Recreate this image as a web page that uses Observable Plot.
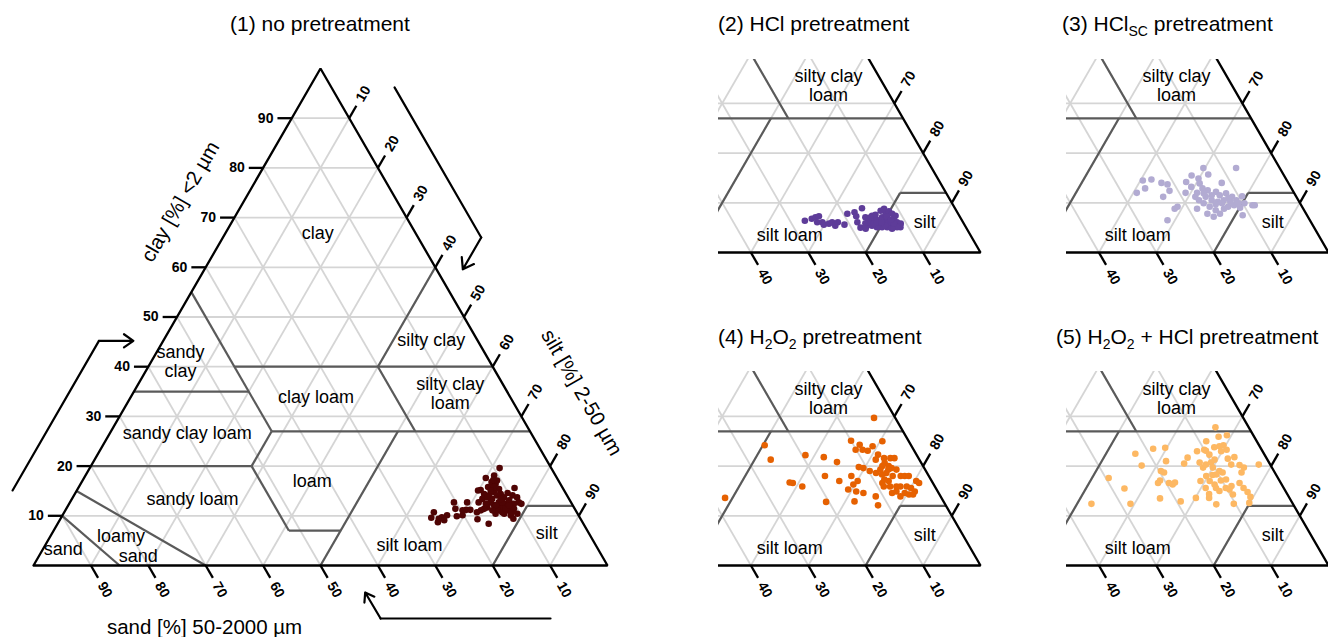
<!DOCTYPE html>
<html><head><meta charset="utf-8">
<script src="https://cdn.jsdelivr.net/npm/d3@7"></script>
<script src="https://cdn.jsdelivr.net/npm/@observablehq/plot@0.6"></script>
<style>
body{margin:0;background:#fff;}
#wrap{position:relative;width:1328px;height:637px;overflow:hidden;font-family:"Liberation Sans",Arial,Helvetica,sans-serif;background:#fff;}
.title{position:absolute;font-size:21px;line-height:21px;white-space:nowrap;color:#000;}
.title sub{font-size:14px;vertical-align:-5px;line-height:0;}
.panel{position:absolute;}
.panel svg{display:block;}
</style></head><body>
<div id="wrap">
  <div class="title" style="left:0;width:640px;text-align:center;top:13px">(1) no pretreatment</div>
  <div class="title" style="left:718px;top:13px">(2) HCl pretreatment</div>
  <div class="title" style="left:1062px;top:13px">(3) HCl<sub>SC</sub> pretreatment</div>
  <div class="title" style="left:718px;top:326px">(4) H<sub>2</sub>O<sub>2</sub> pretreatment</div>
  <div class="title" style="left:1056px;top:326px">(5) H<sub>2</sub>O<sub>2</sub> + HCl pretreatment</div>
</div>
<script>
// ---------------- DATA ----------------
// (1) no pretreatment: clay [%] and silt [%] (sand = 100 - clay - silt)
const clay1 = [19.6,17.6,18.1,16.8,16.4,15.8,15.2,15.1,14.4,14.1,14.8,15.4,14.4,13.7,14.6,14.1,15.6,13.7,12.7,12.4,12.4,11.7,11.1,10.4,11.7,11.1,12.1,12.7,11.7,11.4,11.1,10.7,9.3,8.4,10.4,10.7,10.1,9.4,10.4,11.4,12.7,12.7,11.2,11.2,11.1,11.4,9.9,10.1,10.1,9.7,9.4,9.1,10.7,9.6,8.7,12.7,13.4,13.4,12.7,12.4,13.1,15.8,14.1,12.7,15.1,13.7,12.1,13.4,11.4,10.7,12.1,11.1,12.4,17.1,17.2];
const silt1 = [71.4,70.0,71.2,71.4,72.3,71.3,70.3,69.9,71.3,72.3,72.8,73.4,74.2,75.1,75.3,76.4,76.0,77.4,78.2,77.5,78.8,77.2,77.0,76.8,75.5,75.3,74.2,73.3,73.2,72.8,72.4,71.9,72.7,75.1,75.3,76.3,78.1,78.9,79.1,78.0,69.2,66.9,69.8,70.5,69.2,67.8,68.8,69.7,67.0,66.3,65.9,67.0,64.4,64.5,66.1,71.2,71.5,73.2,74.7,76.0,76.3,72.3,73.7,75.3,72.1,72.2,74.5,74.7,76.5,78.0,76.8,74.4,72.6,72.2,71.5];
// (2) HCl pretreatment
const clay2 = [6.4,6.8,7.1,7.3,6.1,6.1,5.6,5.8,6.1,5.4,6.1,5.6,7.8,8.1,7.3,8.9,6.1,5.0,7.1,6.4,7.4,6.8,6.1,7.1,7.8,6.4,5.8,6.8,6.1,5.8,5.1,5.1,4.8,5.1,5.1,5.1,5.4,5.4,5.9,6.1,5.9,8.4,8.8,8.3,7.8,7.4,7.2,6.6,7.6,7.1,5.8,6.1,5.8,4.8,6.1,5.4,6.6,6.1];
const silt2 = [66.2,67.2,67.7,68.2,68.5,69.4,69.9,70.7,71.1,72.0,72.1,73.5,72.9,74.0,74.7,74.9,75.5,76.6,76.4,77.3,77.4,78.3,79.2,79.3,79.6,80.5,81.4,81.5,82.4,83.2,83.5,82.9,82.2,81.2,80.3,79.4,78.4,77.5,77.0,77.8,78.5,78.4,78.8,79.9,80.7,81.5,80.1,79.3,77.9,77.3,80.3,81.0,82.0,77.6,78.9,80.7,81.1,79.7];
// (3) HCl_SC pretreatment
const clay3 = [14.5,14.7,14.0,13.7,12.9,12.0,11.2,12.4,9.2,8.8,6.5,12.0,14.2,15.5,14.9,13.9,17.0,15.7,14.0,17.0,12.5,12.2,11.5,11.9,11.2,10.5,11.3,9.9,9.5,9.5,10.5,9.9,9.2,8.5,8.8,9.2,9.5,9.0,7.2,7.8,8.8,11.2,11.2,10.5,10.2,10.5,10.2,7.8,7.5,12.0,12.9,9.9,9.7,13.2,11.5,10.9,11.9,9.9];
const silt3 = [60.4,61.8,63.9,65.1,61.6,60.6,65.6,66.1,69.1,68.8,68.7,69.1,68.1,68.4,69.9,70.6,69.7,71.2,74.4,75.4,72.7,74.3,75.3,76.2,77.6,78.7,79.3,80.4,82.0,82.4,72.2,73.3,74.7,76.1,77.4,77.9,78.8,80.1,76.4,77.2,72.7,71.2,73.0,74.4,75.6,76.5,77.8,75.0,81.3,71.1,71.6,76.5,75.5,69.5,73.9,77.1,72.3,79.4];
// (4) H2O2 pretreatment
const clay4 = [29.7,25.1,24.3,24.0,25.0,23.3,23.3,23.1,22.3,21.6,21.6,21.6,21.3,20.6,20.0,20.0,19.8,19.6,19.0,18.6,18.3,18.6,19.6,19.3,18.0,18.0,18.0,17.0,16.6,18.0,17.0,16.6,15.9,15.9,15.9,15.9,15.9,15.6,14.9,14.6,14.3,14.3,14.6,14.9,13.9,13.9,12.1,17.0,16.3,18.0,17.0,15.3,14.9,14.6,12.9,12.8,18.0,22.2,21.8,20.8,16.7,16.6,15.9,21.3,24.2,13.6,17.3,19.3,19.3];
const silt4 = [66.6,64.9,66.8,69.2,70.4,66.6,67.8,68.8,71.0,72.4,73.5,74.2,71.1,73.0,74.0,72.9,68.9,69.8,71.2,72.5,73.7,74.3,74.7,75.7,77.1,77.8,78.5,80.3,81.0,75.7,75.5,74.6,75.2,76.3,77.4,78.1,79.2,80.1,81.1,79.5,80.4,81.1,77.3,77.9,79.1,74.8,76.1,70.1,69.7,68.5,66.9,69.3,70.9,72.3,71.6,66.7,63.9,58.4,61.8,64.6,58.4,59.0,61.0,52.8,50.3,48.7,74.6,72.9,74.3];
// (5) H2O2 + HCl pretreatment
const clay5 = [27.8,25.9,26.2,25.0,23.8,24.0,24.2,23.3,23.0,23.1,23.0,21.7,20.5,20.7,19.7,20.3,20.7,21.3,21.5,21.8,20.2,19.7,20.3,20.3,19.0,18.7,18.3,18.2,18.0,17.0,16.3,17.1,17.3,16.0,18.7,16.6,15.6,14.8,13.8,12.6,12.4,15.6,15.3,15.0,15.6,15.6,14.4,13.6,12.3,17.0,13.6,12.9,16.6,16.3,16.7,17.1,16.6,19.0,18.7,21.0,20.1,22.5,23.5,23.7,17.6,15.5,12.4,12.4,13.5,23.3,22.3,19.7,14.3];
const silt5 = [66.4,67.9,69.2,66.2,68.2,69.0,69.6,70.6,69.8,67.1,65.6,64.6,64.6,67.2,68.3,68.5,69.2,69.5,71.7,72.7,74.4,75.4,72.9,77.7,71.5,72.2,71.3,70.7,69.7,70.8,72.0,72.7,73.5,75.1,75.5,76.2,77.4,78.5,79.5,79.9,77.3,74.3,75.1,73.5,72.6,70.8,72.0,72.4,74.3,69.2,70.1,67.8,63.9,64.7,64.9,62.1,62.0,61.3,62.0,61.2,57.4,55.1,57.7,59.7,52.9,56.7,59.3,52.5,63.9,66.7,68.1,70.0,76.2];

// tick values
const gridVals = [10,20,30,40,50,60,70,80,90];
const mainTicks = [10,20,30,40,50,60,70,80,90];
const smallSandTicks = [10,20,30,40];
const smallSiltTicks = [70,80,90];

// USDA texture-class boundary segments, [sand, silt, clay]
const boundaries = [
  [[45,15,40],[0,60,40]], [[0,40,60],[20,40,40]], [[45,0,55],[45,28,27]], [[65,0,35],[45,20,35]],
  [[45,28,27],[0,73,27]], [[20,40,40],[20,53,27]], [[45,28,27],[52,28,20]], [[80,0,20],[52,28,20]],
  [[52,28,20],[52,41,7]], [[52,41,7],[43,50,7]], [[50,50,0],[23,50,27]], [[20,80,0],[8,80,12]],
  [[8,80,12],[0,88,12]], [[85,15,0],[90,0,10]], [[70,30,0],[85,0,15]]
];

// class label texts and their composition anchors (clay, silt)
const mainLabelText = ["clay","sandy\nclay","silty clay","clay loam","silty clay\nloam","sandy clay loam","loam","sandy loam","silt loam","silt","loamy","sand","sand"];
const mainLabelClay = [67,41,45.4,34,34.6,26.6,17.1,13.3,4.2,6.6,5.9,1.9,3.4];
const mainLabelSilt = [16,5.1,46.6,32.2,55.3,13.5,40,21.05,63.4,86.1,12.3,17.3,3.5];
const smallLabelText = ["silty clay\nloam","silt loam","silt"];
const smallLabelClay = [33.6,3.5,6.1];
const smallLabelSilt = [56.7,65.0,87.25];

// axis titles and their anchors (clay, silt)
const axisTitleText = ["clay [%] <2 µm","silt [%] 2-50 µm","sand [%] 50-2000 µm"];
const axisTitleClay = [73.2,34.8,-12.5];
const axisTitleSilt = [-11.0,78.1,36.05];

// direction arrows as [silt, clay] composition points (last leg carries the head)
const arrowClayAxis = [[-11.2,15.1],[-11.2,45.2],[-5.2,45.2]];
const arrowSiltAxis = [[14.8,96.2],[45,66],[45,59.6]];
const arrowSandAxis = [[95.4,-10.66],[65.8,-10.66],[60.5,-5.43]];

// ---------------- LAYOUT ----------------
const FONT = "'Liberation Sans', Arial, Helvetica, sans-serif";
const FR = {x0: 33, x1: 607, y0: 565, y1: 68}; // pixel corners of the full triangle in panel 1
const TL = 2.5, TD = 4.9;
const panels = [
  {color:"#4f0404", clay:clay1, silt:silt1, dx:0, dy:0, left:0, top:45, w:690, h:592, clip:false,
   clayTicks:mainTicks, sandTicks:mainTicks, siltTicks:mainTicks, main:true},
  {color:"#5e3c99", clay:clay2, silt:silt2, dx:373, dy:-313, left:705, top:45, w:300, h:255, clip:true, cl:718, ct:59,
   clayTicks:[], sandTicks:smallSandTicks, siltTicks:smallSiltTicks},
  {color:"#b2abd2", clay:clay3, silt:silt3, dx:721, dy:-313, left:1053, top:45, w:275, h:255, clip:true, cl:1066, ct:59,
   clayTicks:[], sandTicks:smallSandTicks, siltTicks:smallSiltTicks},
  {color:"#e66101", clay:clay4, silt:silt4, dx:373, dy:0, left:705, top:360, w:300, h:277, clip:true, cl:718, ct:371,
   clayTicks:[], sandTicks:smallSandTicks, siltTicks:smallSiltTicks},
  {color:"#fdb863", clay:clay5, silt:silt5, dx:721, dy:0, left:1053, top:360, w:275, h:277, clip:true, cl:1066, ct:371,
   clayTicks:[], sandTicks:smallSandTicks, siltTicks:smallSiltTicks}
];

const tx = (silt, clay) => silt + clay / 2;

function makePanel(p) {
  const clip = p.clip;
  const grid = gridVals.flatMap(v => [
    {x1: v/2, y1: v, x2: 100 - v/2, y2: v},
    {x1: v, y1: 0, x2: (100 + v)/2, y2: 100 - v},
    {x1: 100 - v, y1: 0, x2: (100 - v)/2, y2: 100 - v}
  ]);
  const bounds = boundaries.map(([a, b]) => ({x1: tx(a[1], a[2]), y1: a[2], x2: tx(b[1], b[2]), y2: b[2]}));
  const outline = [[0,0],[100,0],[50,100],[0,0]];
  const tickSegs = [];
  const clayLab = [], sandLab = [], siltLab = [];
  for (const v of p.clayTicks) {
    tickSegs.push({x1: v/2, y1: v, x2: v/2 - TL, y2: v});
    clayLab.push({x: v/2 - TL - 0.7, y: v, t: String(v)});
  }
  for (const v of p.sandTicks) {
    const x0 = 100 - v;
    tickSegs.push({x1: x0, y1: 0, x2: x0 + TL/2, y2: -TL});
    sandLab.push({x: x0 + TD/2, y: -TD, t: String(v)});
  }
  for (const v of p.siltTicks) {
    const x0 = (100 + v)/2, y0 = 100 - v;
    tickSegs.push({x1: x0, y1: y0, x2: x0 + TL/2, y2: y0 + TL});
    siltLab.push({x: x0 + TD/2, y: y0 + TD, t: String(v)});
  }
  const lt = p.main ? mainLabelText : smallLabelText;
  const lc = p.main ? mainLabelClay : smallLabelClay;
  const ls = p.main ? mainLabelSilt : smallLabelSilt;
  const labels = lt.map((t, i) => ({x: tx(ls[i], lc[i]), y: lc[i], t}));
  const pts = p.clay.map((c, i) => ({x: tx(p.silt[i], c), y: c}));

  const marks = [
    Plot.link(grid, {x1:"x1", y1:"y1", x2:"x2", y2:"y2", stroke:"#d5d5d5", strokeWidth:1.8, clip}),
    Plot.link(bounds, {x1:"x1", y1:"y1", x2:"x2", y2:"y2", stroke:"#5a5a5a", strokeWidth:2.2, clip}),
    Plot.line(outline, {x:d=>d[0], y:d=>d[1], stroke:"#000", strokeWidth:2.3, strokeLinejoin:"miter", clip}),
    Plot.link(tickSegs, {x1:"x1", y1:"y1", x2:"x2", y2:"y2", stroke:"#000", strokeWidth:2.3, clip}),
    Plot.text(clayLab, {x:"x", y:"y", text:"t", textAnchor:"end", lineAnchor:"middle", fontSize:14, fontWeight:"bold", fill:"#000", clip}),
    Plot.text(sandLab, {x:"x", y:"y", text:"t", rotate:60, textAnchor:"middle", lineAnchor:"middle", fontSize:14, fontWeight:"bold", fill:"#000", clip}),
    Plot.text(siltLab, {x:"x", y:"y", text:"t", rotate:-60, textAnchor:"middle", lineAnchor:"middle", fontSize:14, fontWeight:"bold", fill:"#000", clip}),
    Plot.text(labels, {x:"x", y:"y", text:"t", textAnchor:"middle", lineAnchor:"middle", lineHeight:1.05, fontSize:18, fill:"#000", clip}),
    Plot.dot(pts, {x:"x", y:"y", r:3.3, fill:p.color, stroke:null, clip})
  ];
  if (p.main) {
    const at = axisTitleText.map((t, i) => ({x: tx(axisTitleSilt[i], axisTitleClay[i]), y: axisTitleClay[i], t}));
    marks.push(Plot.text([at[0]], {x:"x", y:"y", text:"t", rotate:-60, fontSize:20.5, textAnchor:"middle", lineAnchor:"middle", fill:"#000"}));
    marks.push(Plot.text([at[1]], {x:"x", y:"y", text:"t", rotate:60, fontSize:20.5, textAnchor:"middle", lineAnchor:"middle", fill:"#000"}));
    marks.push(Plot.text([at[2]], {x:"x", y:"y", text:"t", fontSize:20.5, textAnchor:"middle", lineAnchor:"middle", fill:"#000"}));
    for (const arr of [arrowClayAxis, arrowSiltAxis, arrowSandAxis]) {
      const shaft = arr.slice(0, 2).map(([s, c]) => ({x: tx(s, c), y: c}));
      marks.push(Plot.line(shaft, {x:"x", y:"y", stroke:"#000", strokeWidth:2.2}));
      const [s1, c1] = arr[1], [s2, c2] = arr[2];
      marks.push(Plot.arrow([{x1: tx(s1, c1), y1: c1, x2: tx(s2, c2), y2: c2}],
        {x1:"x1", y1:"y1", x2:"x2", y2:"y2", stroke:"#000", strokeWidth:2.2, headLength:14, headAngle:70}));
    }
  }

  const svg = Plot.plot({
    width: p.w, height: p.h,
    marginLeft: clip ? p.cl - p.left : 0,
    marginTop: clip ? p.ct - p.top : 0,
    marginRight: 0, marginBottom: 0,
    x: {type:"linear", domain:[0,100], range:[FR.x0 + p.dx - p.left, FR.x1 + p.dx - p.left], axis:null},
    y: {type:"linear", domain:[0,100], range:[FR.y0 + p.dy - p.top, FR.y1 + p.dy - p.top], axis:null},
    style: {background:"transparent", fontFamily: FONT, overflow:"visible"},
    marks
  });
  const div = document.createElement("div");
  div.className = "panel";
  div.style.left = p.left + "px";
  div.style.top = p.top + "px";
  div.style.width = p.w + "px";
  div.style.height = p.h + "px";
  div.appendChild(svg);
  document.getElementById("wrap").appendChild(div);
}
panels.forEach(makePanel);
</script>
</body></html>
